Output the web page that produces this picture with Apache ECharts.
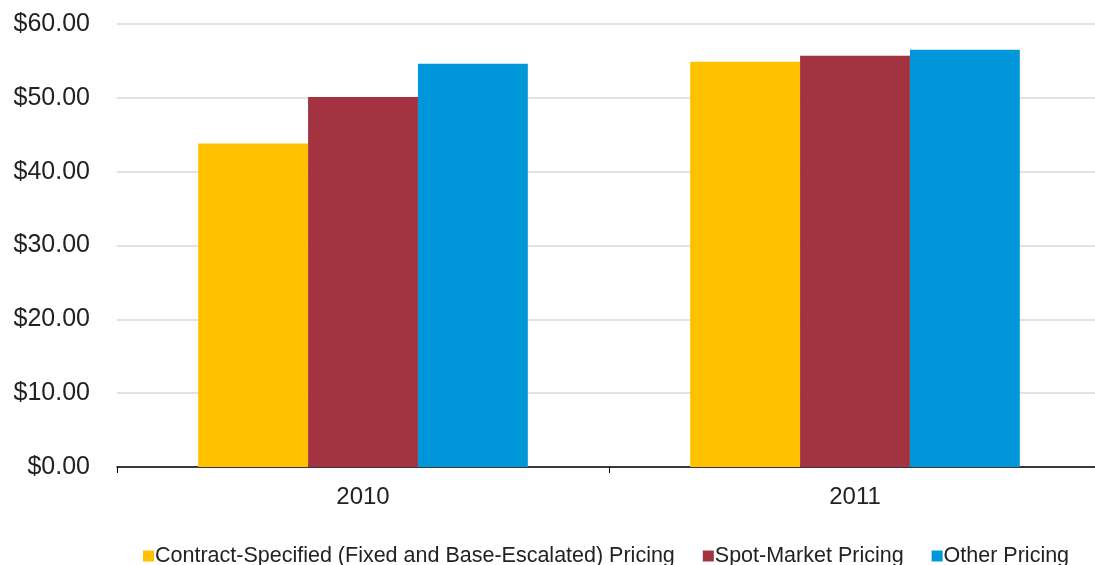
<!DOCTYPE html>
<html>
<head>
<meta charset="utf-8">
<script src="https://cdn.jsdelivr.net/npm/echarts@6/dist/echarts.min.js"></script>
<style>
  html, body { margin: 0; padding: 0; background: #fff; }
  #chart { width: 1095px; height: 565px; }
</style>
</head>
<body>
<div id="chart"></div>
<script>
const years = ["2010", "2011"];
const contractPricing = [43.8, 54.9];
const spotPricing = [50.1, 55.7];
const otherPricing = [54.6, 56.5];
const yTicks = [0, 10, 20, 30, 40, 50, 60];

const chart = echarts.init(document.getElementById("chart"));

const font = "Arial, 'Liberation Sans', sans-serif";

chart.setOption({
  animation: false,
  grid: { left: 117, top: 24, right: -6, bottom: 98, outerBoundsMode: "none" },
  legend: {
    left: 138,
    bottom: -7,
    itemWidth: 11,
    itemHeight: 11,
    itemGap: 28,
    icon: "rect",
    textStyle: { fontFamily: font, fontSize: 21.5, color: "#222", padding: [0, 0, 0, -4] },
    data: ["Contract-Specified (Fixed and Base-Escalated) Pricing", "Spot-Market Pricing", "Other Pricing"]
  },
  xAxis: {
    type: "category",
    data: years,
    axisLine: { lineStyle: { color: "#000", width: 1.5 } },
    axisTick: { show: true, length: 6, lineStyle: { color: "#000" } },
    axisLabel: { fontFamily: font, fontSize: 24, color: "#222", margin: 18 }
  },
  yAxis: {
    type: "value",
    min: yTicks[0],
    max: yTicks[yTicks.length - 1],
    interval: 10,
    axisLine: { show: false },
    axisTick: { show: false },
    splitLine: { lineStyle: { color: "#d9d9d9", width: 1.5 } },
    axisLabel: {
      fontFamily: font, fontSize: 25, color: "#222", margin: 27,
      formatter: v => "$" + v.toFixed(2)
    }
  },
  series: [
    {
      name: "Contract-Specified (Fixed and Base-Escalated) Pricing",
      type: "bar", data: contractPricing, barGap: "0%", barCategoryGap: "33%",
      itemStyle: { color: "#ffc000" }
    },
    {
      name: "Spot-Market Pricing",
      type: "bar", data: spotPricing,
      itemStyle: { color: "#a33340" }
    },
    {
      name: "Other Pricing",
      type: "bar", data: otherPricing,
      itemStyle: { color: "#0097da" }
    }
  ]
});
</script>
</body>
</html>
